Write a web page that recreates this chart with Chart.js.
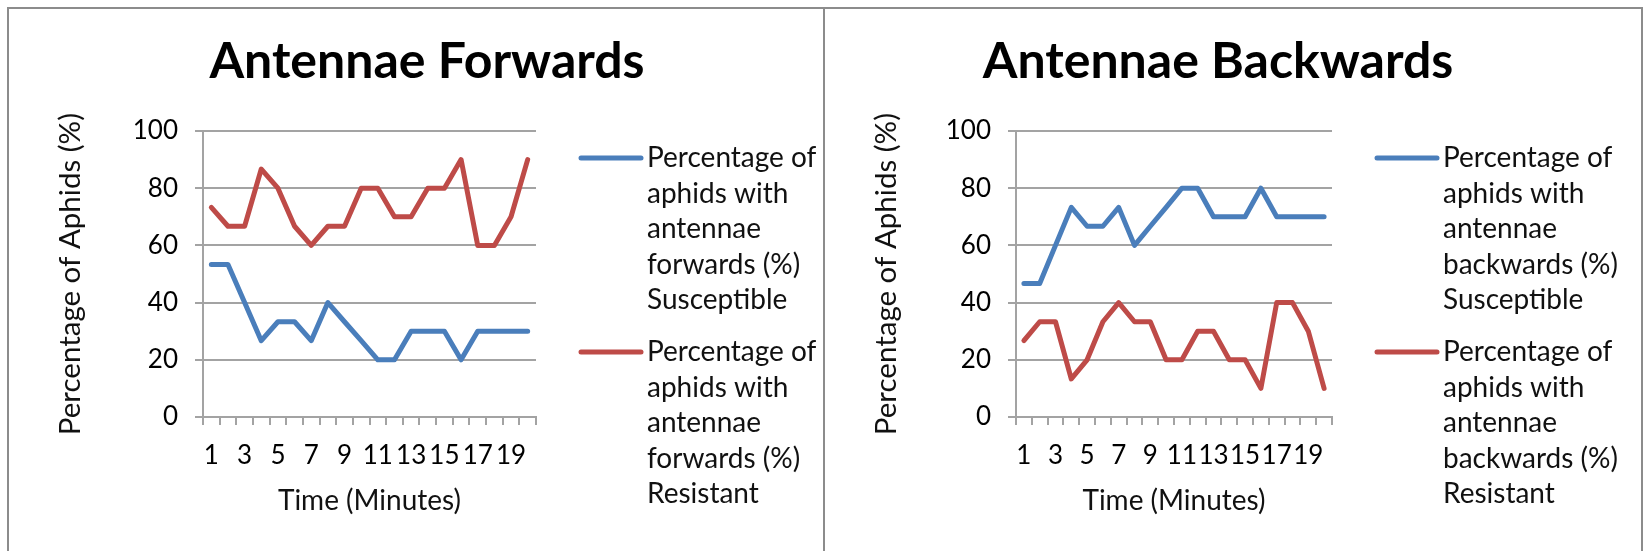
<!DOCTYPE html>
<html>
<head>
<meta charset="utf-8">
<script src="https://cdn.jsdelivr.net/npm/chart.js@4.4.1/dist/chart.umd.min.js"></script>
<style>
  html, body { margin: 0; padding: 0; background: #fff; width: 1645px; height: 551px; overflow: hidden; }
  .panel { position: absolute; top: 7px; height: 570px; box-sizing: border-box;
           border-top: 2px solid #8c8c8c; border-right: 2px solid #8c8c8c; }
  #panelF { left: 7px; width: 818px; border-left: 2px solid #8c8c8c; }
  #panelB { left: 825px; width: 818px; }
  canvas { position: absolute; }
</style>
</head>
<body>
<div class="panel" id="panelF"></div>
<div class="panel" id="panelB"></div>
<canvas id="chartF" width="814" height="542" style="left:9px;top:9px;width:814px;height:542px"></canvas>
<canvas id="chartB" width="816" height="542" style="left:825px;top:9px;width:816px;height:542px"></canvas>
<script>
// Time points (minutes)
const minutes = ['1','2','3','4','5','6','7','8','9','10','11','12','13','14','15','16','17','18','19','20'];

// Antennae forwards (%)
const forwardsSusceptible = [53.3, 53.3, 40, 26.7, 33.3, 33.3, 26.7, 40, 33.3, 26.7, 20, 20, 30, 30, 30, 20, 30, 30, 30, 30];
const forwardsResistant   = [73.3, 66.7, 66.7, 86.7, 80, 66.7, 60, 66.7, 66.7, 80, 80, 70, 70, 80, 80, 90, 60, 60, 70, 90];

// Antennae backwards (%)
const backwardsSusceptible = [46.7, 46.7, 60, 73.3, 66.7, 66.7, 73.3, 60, 66.7, 73.3, 80, 80, 70, 70, 70, 80, 70, 70, 70, 70];
const backwardsResistant   = [26.7, 33.3, 33.3, 13.3, 20, 33.3, 40, 33.3, 33.3, 20, 20, 30, 30, 20, 20, 10, 40, 40, 30, 10];

const yTicks = [0, 20, 40, 60, 80, 100];

const FONT = 'Lato';
const BLUE = '#4a7ebb';
const RED = '#be4b48';
const GRID = '#a3a3a3';
const LINE_W = 5;

// Bold heading drawn above the plot
const panelTitle = {
  id: 'panelTitle',
  afterDraw(chart, args, opts) {
    const ctx = chart.ctx;
    ctx.save();
    ctx.font = `bold ${opts.size}px ${FONT}`;
    ctx.fillStyle = '#000';
    ctx.textAlign = 'center';
    ctx.textBaseline = 'alphabetic';
    ctx.fillText(opts.text, opts.x, opts.y);
    ctx.restore();
  }
};

// Legend to the right of the plot, with word-wrapped entries
const sideLegend = {
  id: 'sideLegend',
  afterDraw(chart, args, opts) {
    const ctx = chart.ctx;
    const area = chart.chartArea;
    ctx.save();
    ctx.font = `${opts.size}px ${FONT}`;
    ctx.textBaseline = 'middle';
    ctx.textAlign = 'left';
    let y = opts.top;
    chart.data.datasets.forEach(ds => {
      const words = ds.label.split(' ');
      const lines = [];
      let cur = '';
      words.forEach(w => {
        const t = cur ? cur + ' ' + w : w;
        if (cur && ctx.measureText(t).width > opts.wrap) { lines.push(cur); cur = w; }
        else cur = t;
      });
      if (cur) lines.push(cur);
      const x0 = area.right + opts.gap;
      ctx.strokeStyle = ds.borderColor;
      ctx.lineWidth = ds.borderWidth;
      ctx.lineCap = 'round';
      ctx.beginPath();
      ctx.moveTo(x0, y);
      ctx.lineTo(x0 + opts.lineLen, y);
      ctx.stroke();
      ctx.fillStyle = '#111';
      lines.forEach((ln, i) => ctx.fillText(ln, x0 + opts.lineLen + opts.textGap, y + i * opts.lineHeight));
      y += (lines.length - 1) * opts.lineHeight + opts.entryGap;
    });
    ctx.restore();
  }
};

function makeChart(id, cfg) {
  return new Chart(document.getElementById(id), {
    type: 'line',
    data: {
      labels: minutes,
      datasets: [
        { label: cfg.labels[0], data: cfg.series[0], borderColor: BLUE, backgroundColor: BLUE, borderWidth: LINE_W },
        { label: cfg.labels[1], data: cfg.series[1], borderColor: RED, backgroundColor: RED, borderWidth: LINE_W }
      ]
    },
    plugins: [panelTitle, sideLegend],
    options: {
      responsive: false,
      animation: false,
      devicePixelRatio: 1,
      layout: { padding: { left: 0, top: 122, right: cfg.rightPad, bottom: 0 } },
      elements: {
        line: { tension: 0, borderCapStyle: 'round', borderJoinStyle: 'round' },
        point: { radius: 0, hoverRadius: 0 }
      },
      plugins: {
        legend: { display: false },
        tooltip: { enabled: false },
        panelTitle: { text: cfg.title, x: cfg.titleX, y: 69, size: 50 },
        sideLegend: { size: 28, wrap: 200, gap: 45, lineLen: 60, textGap: 6, top: 149, lineHeight: 35.5, entryGap: 52 }
      },
      scales: {
        x: {
          type: 'category',
          offset: true,
          afterFit(scale) { scale.height = 134; },
          grid: { display: true, drawOnChartArea: false, drawTicks: true, offset: true, tickLength: 8, color: GRID, lineWidth: 2 },
          border: { display: true, color: GRID, width: 2 },
          ticks: {
            autoSkip: false, maxRotation: 0, minRotation: 0, padding: 15,
            color: '#000', font: { family: FONT, size: 26 },
            callback(v, i) { return i % 2 === 0 ? minutes[i] : ''; }
          },
          title: { display: true, text: 'Time (Minutes)', color: '#111', font: { family: FONT, size: 28 }, padding: { top: 0, bottom: 33 } }
        },
        y: {
          min: 0, max: 100,
          afterFit(scale) { scale.width = cfg.yWidth; },
          afterBuildTicks(scale) { scale.ticks = yTicks.map(v => ({ value: v })); },
          grid: { color: GRID, lineWidth: 2, tickLength: 8, drawTicks: true },
          border: { display: true, color: GRID, width: 2 },
          ticks: { padding: 17, color: '#000', font: { family: FONT, size: 26 } },
          title: { display: true, text: 'Percentage of Aphids (%)', color: '#111', font: { family: FONT, size: 29.5 }, padding: { top: 44, bottom: 0 } }
        }
      }
    }
  });
}

makeChart('chartF', {
  title: 'Antennae Forwards',
  titleX: 418,
  yWidth: 194,
  rightPad: 287,
  labels: ['Percentage of aphids with antennae forwards (%) Susceptible',
           'Percentage of aphids with antennae forwards (%) Resistant'],
  series: [forwardsSusceptible, forwardsResistant]
});

makeChart('chartB', {
  title: 'Antennae Backwards',
  titleX: 393,
  yWidth: 191,
  rightPad: 309,
  labels: ['Percentage of aphids with antennae backwards (%) Susceptible',
           'Percentage of aphids with antennae backwards (%) Resistant'],
  series: [backwardsSusceptible, backwardsResistant]
});
</script>
</body>
</html>
